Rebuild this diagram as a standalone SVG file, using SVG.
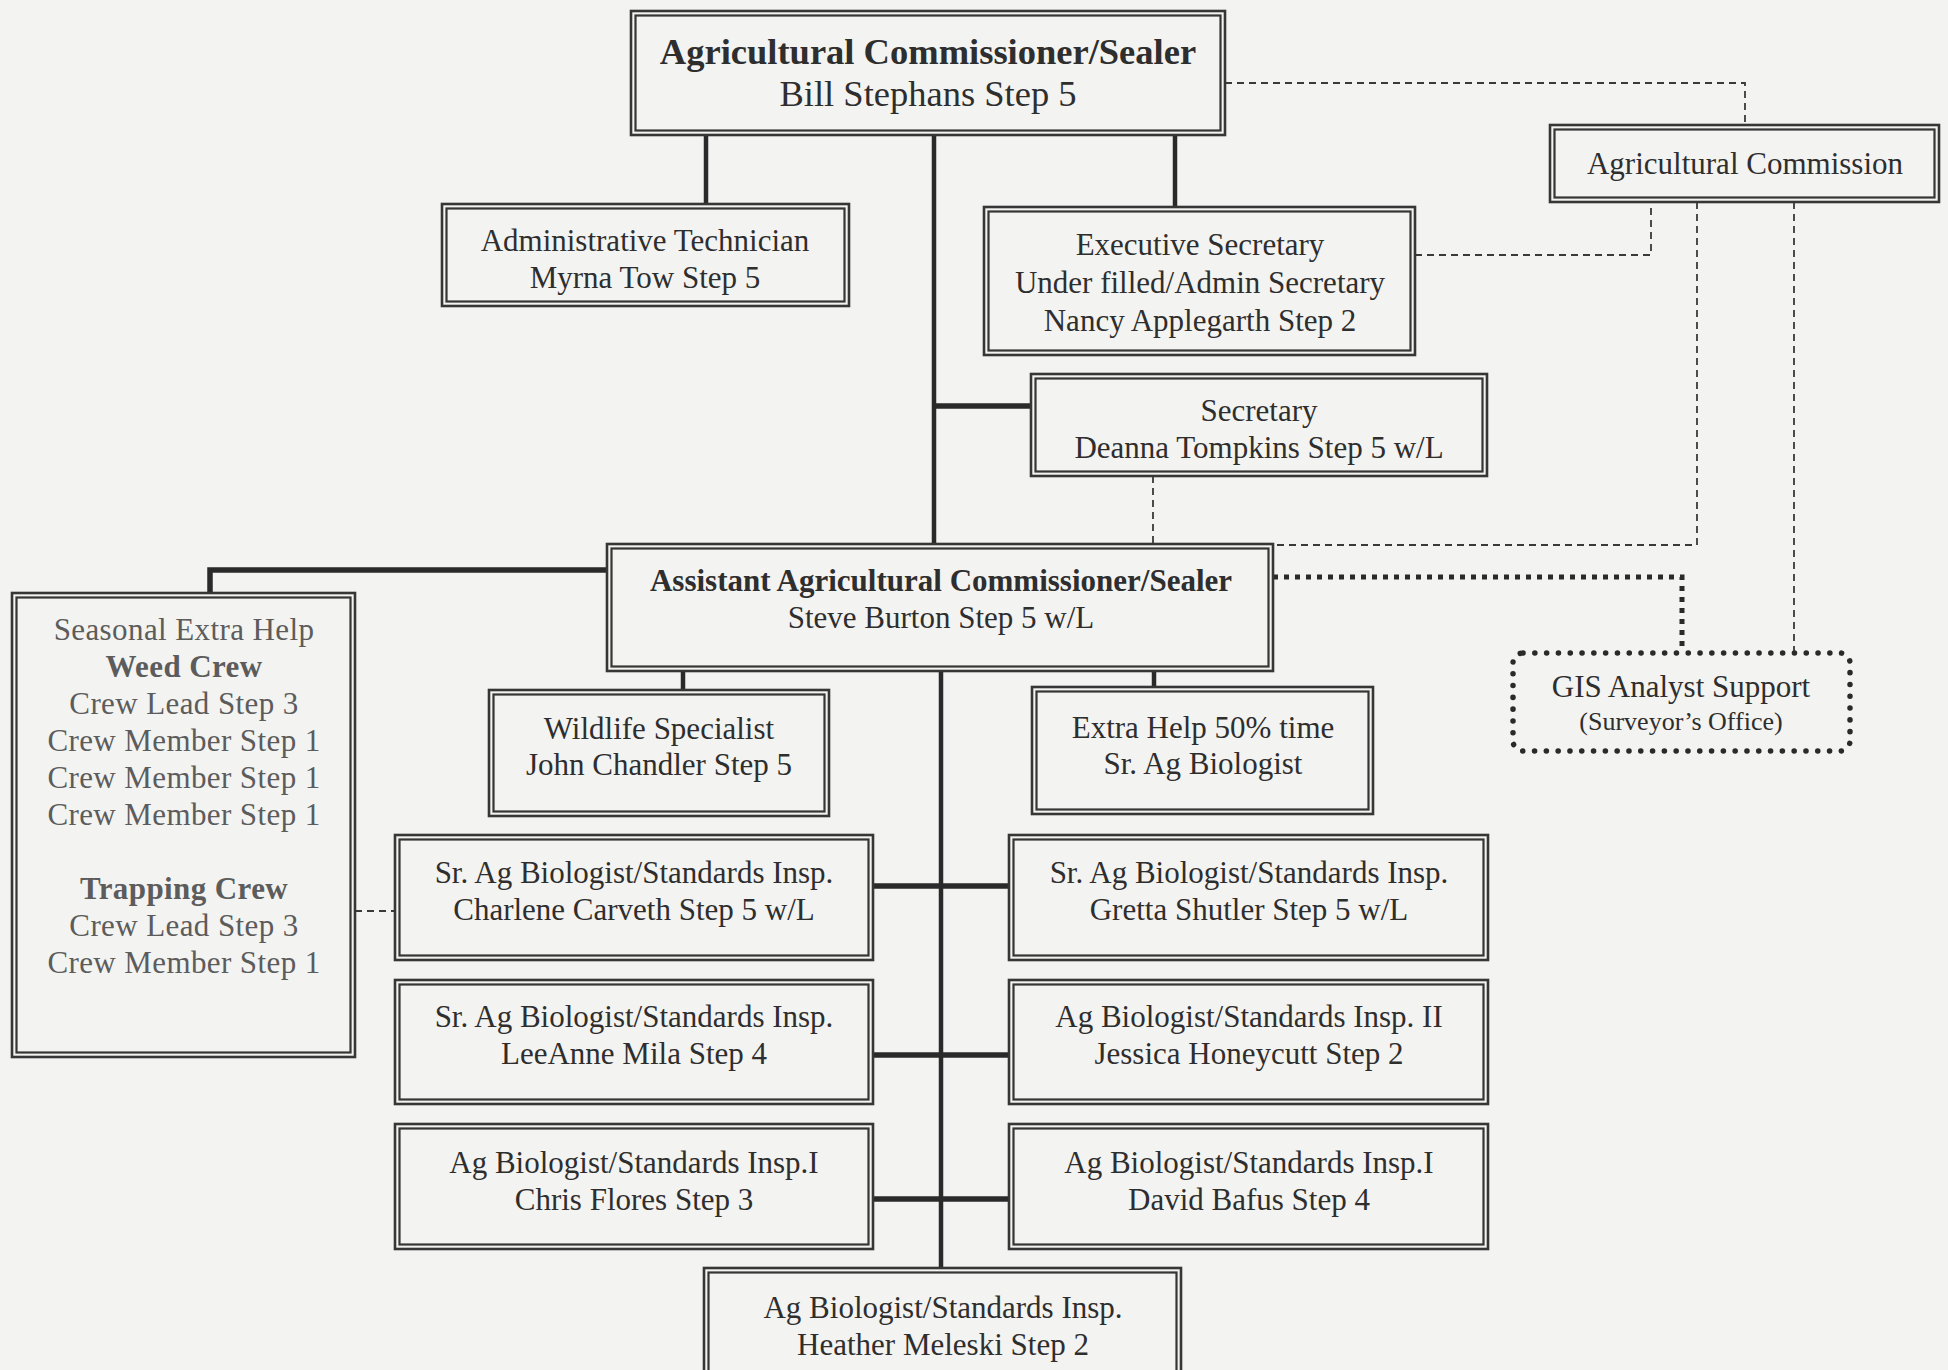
<svg xmlns="http://www.w3.org/2000/svg" width="1948" height="1370" viewBox="0 0 1948 1370">
  <style>
    .bg { fill: #f3f3f1; }
    .outer { fill: none; stroke: #363636; stroke-width: 2.6; }
    .inner { fill: none; stroke: #363636; stroke-width: 2.2; }
    text { font-family: "Liberation Serif", "Times New Roman", serif; fill: #2e2e2e; text-anchor: middle; font-size: 31px; }
    .b { font-weight: bold; }
    .big { font-size: 36.5px; }
    .small { font-size: 26px; }
    .light { fill: #5c5c5c; letter-spacing: 0.4px; }
    .solid { stroke: #2a2a2a; stroke-width: 4.5; fill: none; }
    .bar { stroke: #2a2a2a; stroke-width: 5.5; fill: none; }
    .dash { stroke: #3a3a3a; stroke-width: 1.8; stroke-dasharray: 7 5; fill: none; }
    .dot { stroke: #2a2a2a; stroke-width: 5; stroke-dasharray: 5 6; fill: none; }
    .gis { fill: none; stroke: #2a2a2a; stroke-width: 5.5; stroke-dasharray: 0.1 11.7; stroke-linecap: round; }
  </style>
  <rect class="bg" x="0" y="0" width="1948" height="1370"/>

  <!-- connectors -->
  <g id="connectors">
    <!-- commissioner to staff -->
    <path class="solid" d="M706 135 V204"/>
    <path class="solid" d="M1175 135 V207"/>
    <path class="solid" d="M934 135 V544"/>
    <path class="bar" d="M934 406 H1031"/>
    <!-- assistant to staff -->
    <path class="bar" d="M607 570 H210 V593"/>
    <path class="solid" d="M683 671 V690"/>
    <path class="solid" d="M1154 671 V687"/>
    <path class="solid" d="M941 671 V1268"/>
    <path class="bar" d="M873 886 H1009"/>
    <path class="bar" d="M873 1055 H1009"/>
    <path class="bar" d="M873 1199 H1009"/>
    <!-- advisory links -->
    <path class="dash" d="M1225 83 H1745 V125"/>
    <path class="dash" d="M1415 255 H1651 V202"/>
    <path class="dash" d="M1697 202 V545 H1273"/>
    <path class="dash" d="M1153 476 V544"/>
    <path class="dash" d="M1794 202 V653"/>
    <path class="dash" d="M355 911 H395"/>
    <path class="dot" d="M1273 577 H1682 V650"/>
  </g>

  <g id="commissioner">
    <rect class="outer" x="631" y="11" width="594" height="124"/>
    <rect class="inner" x="635.5" y="15.5" width="585" height="115"/>
    <text class="big b" x="928" y="64">Agricultural Commissioner/Sealer</text>
    <text class="big" x="928" y="106">Bill Stephans Step 5</text>
  </g>

  <g id="ag-commission">
    <rect class="outer" x="1550" y="125" width="389" height="77"/>
    <rect class="inner" x="1554.5" y="129.5" width="380" height="68"/>
    <text x="1745" y="174">Agricultural Commission</text>
  </g>

  <g id="admin-tech">
    <rect class="outer" x="442" y="204" width="407" height="102"/>
    <rect class="inner" x="446.5" y="208.5" width="398" height="93"/>
    <text x="645" y="251">Administrative Technician</text>
    <text x="645" y="288">Myrna Tow Step 5</text>
  </g>

  <g id="exec-secretary">
    <rect class="outer" x="984" y="207" width="431" height="148"/>
    <rect class="inner" x="988.5" y="211.5" width="422" height="139"/>
    <text x="1200" y="255">Executive Secretary</text>
    <text x="1200" y="293">Under filled/Admin Secretary</text>
    <text x="1200" y="331">Nancy Applegarth Step 2</text>
  </g>

  <g id="secretary">
    <rect class="outer" x="1031" y="374" width="456" height="102"/>
    <rect class="inner" x="1035.5" y="378.5" width="447" height="93"/>
    <text x="1259" y="421">Secretary</text>
    <text x="1259" y="458">Deanna Tompkins Step 5 w/L</text>
  </g>

  <g id="assistant">
    <rect class="outer" x="607" y="544" width="666" height="127"/>
    <rect class="inner" x="611.5" y="548.5" width="657" height="118"/>
    <text class="b" x="941" y="591">Assistant Agricultural Commissioner/Sealer</text>
    <text x="941" y="628">Steve Burton Step 5 w/L</text>
  </g>

  <g id="seasonal">
    <rect class="outer" x="12" y="593" width="343" height="464"/>
    <rect class="inner" x="16.5" y="597.5" width="334" height="455"/>
    <text class="light" x="184" y="640">Seasonal Extra Help</text>
    <text class="b light" x="184" y="677">Weed Crew</text>
    <text class="light" x="184" y="714">Crew Lead Step 3</text>
    <text class="light" x="184" y="751">Crew Member Step 1</text>
    <text class="light" x="184" y="788">Crew Member Step 1</text>
    <text class="light" x="184" y="825">Crew Member Step 1</text>
    <text class="b light" x="184" y="899">Trapping Crew</text>
    <text class="light" x="184" y="936">Crew Lead Step 3</text>
    <text class="light" x="184" y="973">Crew Member Step 1</text>
  </g>

  <g id="gis">
    <rect class="gis" x="1513" y="653" width="337" height="98" rx="10"/>
    <text x="1681" y="697">GIS Analyst Support</text>
    <text class="small" x="1681" y="730">(Surveyor’s Office)</text>
  </g>

  <g id="wildlife">
    <rect class="outer" x="489" y="690" width="340" height="126"/>
    <rect class="inner" x="493.5" y="694.5" width="331" height="117"/>
    <text x="659" y="739">Wildlife Specialist</text>
    <text x="659" y="775">John Chandler Step 5</text>
  </g>

  <g id="extra-help">
    <rect class="outer" x="1032" y="687" width="341" height="127"/>
    <rect class="inner" x="1036.5" y="691.5" width="332" height="118"/>
    <text x="1203" y="738">Extra Help 50% time</text>
    <text x="1203" y="774">Sr. Ag Biologist</text>
  </g>

  <g id="carveth">
    <rect class="outer" x="395" y="835" width="478" height="125"/>
    <rect class="inner" x="399.5" y="839.5" width="469" height="116"/>
    <text x="634" y="883">Sr. Ag Biologist/Standards Insp.</text>
    <text x="634" y="920">Charlene Carveth Step 5 w/L</text>
  </g>

  <g id="shutler">
    <rect class="outer" x="1009" y="835" width="479" height="125"/>
    <rect class="inner" x="1013.5" y="839.5" width="470" height="116"/>
    <text x="1249" y="883">Sr. Ag Biologist/Standards Insp.</text>
    <text x="1249" y="920">Gretta Shutler Step 5 w/L</text>
  </g>

  <g id="mila">
    <rect class="outer" x="395" y="980" width="478" height="124"/>
    <rect class="inner" x="399.5" y="984.5" width="469" height="115"/>
    <text x="634" y="1027">Sr. Ag Biologist/Standards Insp.</text>
    <text x="634" y="1064">LeeAnne Mila Step 4</text>
  </g>

  <g id="honeycutt">
    <rect class="outer" x="1009" y="980" width="479" height="124"/>
    <rect class="inner" x="1013.5" y="984.5" width="470" height="115"/>
    <text x="1249" y="1027">Ag Biologist/Standards Insp. II</text>
    <text x="1249" y="1064">Jessica Honeycutt Step 2</text>
  </g>

  <g id="flores">
    <rect class="outer" x="395" y="1124" width="478" height="125"/>
    <rect class="inner" x="399.5" y="1128.5" width="469" height="116"/>
    <text x="634" y="1173">Ag Biologist/Standards Insp.I</text>
    <text x="634" y="1210">Chris Flores Step 3</text>
  </g>

  <g id="bafus">
    <rect class="outer" x="1009" y="1124" width="479" height="125"/>
    <rect class="inner" x="1013.5" y="1128.5" width="470" height="116"/>
    <text x="1249" y="1173">Ag Biologist/Standards Insp.I</text>
    <text x="1249" y="1210">David Bafus Step 4</text>
  </g>

  <g id="meleski">
    <rect class="outer" x="704" y="1268" width="477" height="120"/>
    <rect class="inner" x="708.5" y="1272.5" width="468" height="111"/>
    <text x="943" y="1318">Ag Biologist/Standards Insp.</text>
    <text x="943" y="1355">Heather Meleski Step 2</text>
  </g>
</svg>
